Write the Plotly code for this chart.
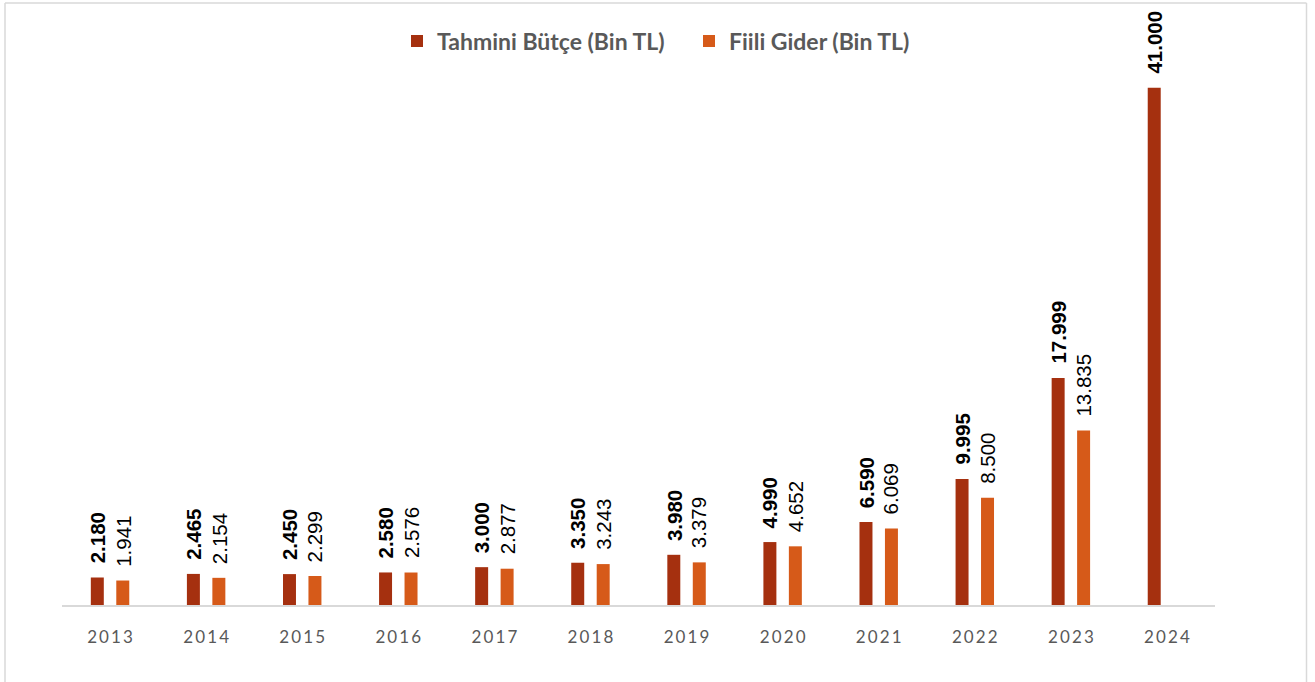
import plotly.graph_objects as go

years = ["2013", "2014", "2015", "2016", "2017", "2018", "2019", "2020", "2021", "2022", "2023", "2024"]
budget = [2180, 2465, 2450, 2580, 3000, 3350, 3980, 4990, 6590, 9995, 17999, 41000]
actual = [1941, 2154, 2299, 2576, 2877, 3243, 3379, 4652, 6069, 8500, 13835, None]
name_budget = "Tahmini Bütçe (Bin TL)"
name_actual = "Fiili Gider (Bin TL)"

C_DARK = "#A5300F"
C_ORANGE = "#D65A19"

def fmt(v):
    return f"{v:,}".replace(",", ".")

W, H = 1315, 682
ML, MR, MT, MB = 62, 100, 50, 77
plot_w = W - ML - MR
plot_h = H - MT - MB

fig = go.Figure()
fig.add_trace(go.Bar(x=years, y=budget, name=name_budget, marker_color=C_DARK,
                     marker_line_width=0))
fig.add_trace(go.Bar(x=years, y=actual, name=name_actual, marker_color=C_ORANGE,
                     marker_line_width=0))

cat_w = plot_w / len(years)
bargap = 0.47
shift = cat_w * (1 - bargap) / 4

annotations = []
for i, v in enumerate(budget):
    if v is None:
        continue
    annotations.append(dict(x=i, y=v, xref="x", yref="y", text=f"<b>{fmt(v)}</b>",
                            showarrow=False, textangle=-90, xanchor="center", yanchor="bottom",
                            xshift=-shift, yshift=12,
                            font=dict(family="Liberation Sans, Arial", size=20.5, color="#000000")))
for i, v in enumerate(actual):
    if v is None:
        continue
    annotations.append(dict(x=i, y=v, xref="x", yref="y", text=fmt(v),
                            showarrow=False, textangle=-90, xanchor="center", yanchor="bottom",
                            xshift=shift, yshift=12,
                            font=dict(family="Liberation Sans, Arial", size=20.5, color="#000000")))

tick_text = ["\u2009".join(list(y)) for y in years]

def px_x(p):
    return (p - ML) / plot_w

def px_y(p):
    return (H - MB - p) / plot_h

shapes = [
    dict(type="line", xref="paper", yref="paper", x0=px_x(5), x1=px_x(5), y0=px_y(3), y1=px_y(H + 5),
         line=dict(color="#D9D9D9", width=1.5)),
    dict(type="line", xref="paper", yref="paper", x0=px_x(5), x1=px_x(1306.5), y0=px_y(3), y1=px_y(3),
         line=dict(color="#D9D9D9", width=1.5)),
    dict(type="line", xref="paper", yref="paper", x0=px_x(1306.5), x1=px_x(1306.5), y0=px_y(3), y1=px_y(H + 5),
         line=dict(color="#D9D9D9", width=1.5)),
]

fig.update_layout(
    width=W, height=H,
    margin=dict(l=ML, r=MR, t=MT, b=MB, pad=0),
    paper_bgcolor="white", plot_bgcolor="white",
    barmode="group", bargap=bargap, bargroupgap=0.49,
    showlegend=True,
    legend=dict(orientation="h", x=px_x(397), xanchor="left", y=px_y(41), yanchor="middle",
                font=dict(family="Lato, Open Sans", size=23, color="#595959", weight="bold"),
                entrywidth=247, entrywidthmode="pixels",
                tracegroupgap=0, traceorder="normal"),
    xaxis=dict(type="category", showline=True, linecolor="#D9D9D9", linewidth=2,
               showgrid=False, zeroline=False, ticks="", tickmode="array",
               tickvals=years, ticktext=tick_text, ticklabelstandoff=16,
               range=[-0.5, len(years) - 0.5],
               tickfont=dict(family="Lato, Open Sans", size=17, color="#595959")),
    yaxis=dict(range=[0, 44000], visible=False, showgrid=False, zeroline=False),
    annotations=annotations,
    shapes=shapes,
)

fig.write_html("out.html", post_script="document.body.style.margin='0';",
               config={"displayModeBar": False})
